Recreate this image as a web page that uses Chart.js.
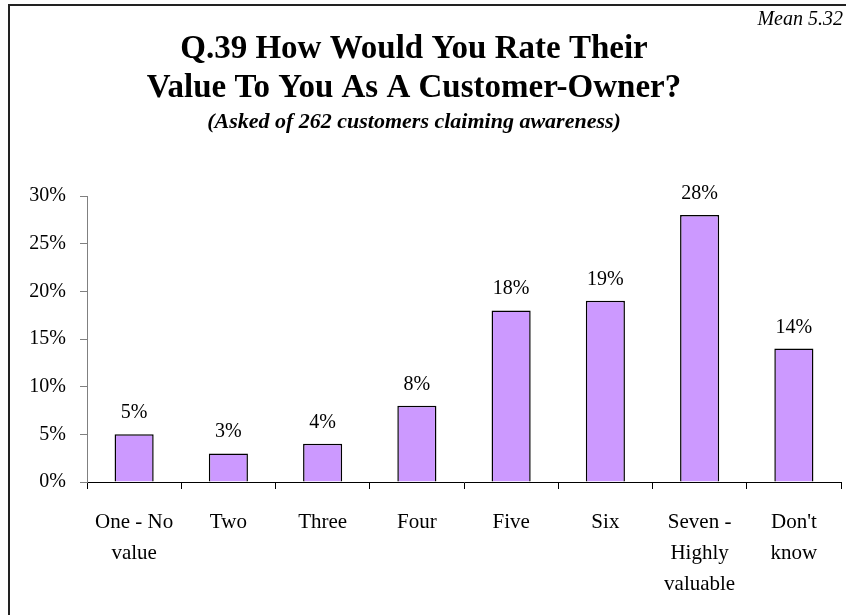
<!DOCTYPE html>
<html><head><meta charset="utf-8">
<script src="https://cdn.jsdelivr.net/npm/chart.js@4/dist/chart.umd.min.js"></script>
<style>html,body{margin:0;padding:0;background:#fff}#wrap{width:846px;height:615px;position:relative}</style>
</head><body><div id="wrap"><canvas id="c" width="846" height="615"></canvas></div>
<script>
const categories = [['One - No','value'],'Two','Three','Four','Five','Six',['Seven -','Highly','valuable'],["Don't",'know']];
const percentages = [5,3,4,8,18,19,28,14];
const yTickValues = [0,5,10,15,20,25,30];
const titleLines = ['Q.39 How Would You Rate Their','Value To You As A Customer-Owner?'];
const subtitleText = '(Asked of 262 customers claiming awareness)';
const meanNote = 'Mean 5.32';

const SERIF = '"Liberation Serif","Times New Roman",Times,serif';

const decorPlugin = {
  id: 'decor',
  beforeDraw(chart) {
    const ctx = chart.ctx;
    ctx.save();
    ctx.fillStyle = '#fff';
    ctx.fillRect(0,0,chart.width,chart.height);
    ctx.strokeStyle = '#222';
    ctx.lineWidth = 2;
    ctx.beginPath();
    ctx.moveTo(9, chart.height);
    ctx.lineTo(9, 5);
    ctx.lineTo(chart.width, 5);
    ctx.stroke();
    ctx.restore();
  },
  afterDraw(chart) {
    const ctx = chart.ctx;
    ctx.save();
    ctx.fillStyle = '#000';
    ctx.textAlign = 'center';
    ctx.textBaseline = 'alphabetic';
    const cx = 414;
    ctx.font = 'bold 33px ' + SERIF;
    ctx.fillText(titleLines[0], cx, 58);
    ctx.fillText(titleLines[1], cx, 97);
    ctx.font = 'italic bold 22px ' + SERIF;
    ctx.fillText(subtitleText, cx, 128);
    ctx.font = 'italic 20px ' + SERIF;
    ctx.textAlign = 'right';
    ctx.fillText(meanNote, 843, 25);
    ctx.restore();
  },
  afterDatasetsDraw(chart) {
    const ctx = chart.ctx;
    const meta = chart.getDatasetMeta(0);
    ctx.save();
    ctx.fillStyle = '#000';
    ctx.font = '20px ' + SERIF;
    ctx.textAlign = 'center';
    ctx.textBaseline = 'alphabetic';
    meta.data.forEach((bar, i) => {
      ctx.fillText(percentages[i] + '%', bar.x, bar.y - 16);
    });
    ctx.restore();
  }
};

new Chart(document.getElementById('c'), {
  type: 'bar',
  data: {
    labels: categories,
    datasets: [{
      data: percentages,
      backgroundColor: '#CC99FF',
      borderColor: '#000',
      borderWidth: 1.5,
      categoryPercentage: 1,
      barPercentage: 0.415
    }]
  },
  options: {
    responsive: false,
    animation: false,
    devicePixelRatio: 1,
    layout: { padding: { left: 9, right: 5, top: 196, bottom: 0 } },
    plugins: { legend: { display: false }, title: { display: false }, tooltip: { enabled: false } },
    scales: {
      x: {
        offset: true,
        afterFit(scale) { scale.height = 615 - 482; },
        border: { display: true, color: '#000', width: 1 },
        grid: { offset: true, drawOnChartArea: false, drawTicks: true, tickLength: 7, color: '#000' },
        ticks: { color: '#000', font: { family: SERIF, size: 21, lineHeight: 1.476 }, padding: 18, maxRotation: 0, autoSkip: false }
      },
      y: {
        min: 0, max: 30,
        afterFit(scale) { scale.width = 87 - 9; },
        afterBuildTicks(scale) { scale.ticks = yTickValues.map(v => ({ value: v })); },
        border: { display: true, color: '#808080', width: 1 },
        grid: { drawOnChartArea: false, drawTicks: true, tickLength: 7, color: '#808080' },
        ticks: { color: '#000', font: { family: SERIF, size: 20 }, padding: 14, callback: v => v + '%' }
      }
    }
  },
  plugins: [decorPlugin]
});
</script></body></html>
